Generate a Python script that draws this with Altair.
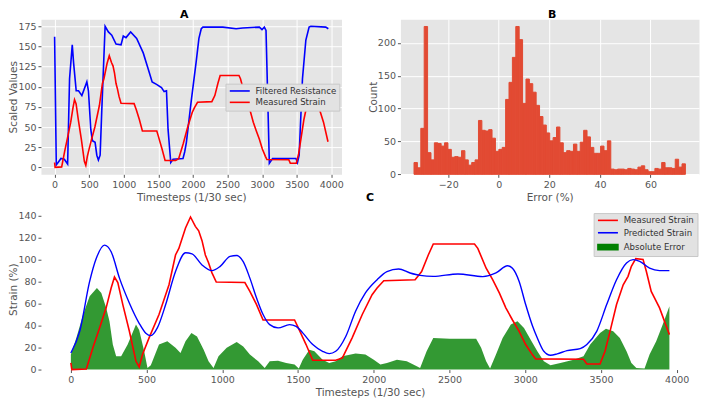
import altair as alt
import pandas as pd

FONT = "DejaVu Sans"
TXT = "#555555"
BG = "#E5E5E5"

# ---------------------------------------------------------------- data
# Measured strain (panels A and C): timestep / value
meas_t = [0, 7, 102, 146, 190, 233, 266, 288, 310, 343, 386, 430, 451, 473,
          517, 582, 648, 691, 713, 757, 790, 822, 844, 866, 888, 909, 931, 960,
          1149, 1182, 1226, 1269, 1477, 1498, 1553, 1597, 1749, 1793, 1858,
          1924, 1989, 2022, 2066, 2273, 2316, 2360, 2393, 2665, 2687, 2742,
          2785, 2829, 2872, 2916, 2960, 3003, 3047, 3069, 3385, 3407, 3494,
          3527, 3560, 3603, 3647, 3679, 3701, 3730, 3778, 3800, 3832, 3887, 3952]
meas_v = [6, 0, 0.5, 20, 38, 56, 74, 84, 79, 59, 35, 7.5, 2.4, 13.6,
          29, 50, 77, 104, 110, 128.5, 138.5, 130, 126, 117, 104, 97, 88, 79.5,
          79, 71, 59, 45, 45, 39, 22.7, 8.5, 8.5, 10.6, 29,
          50, 68, 74, 80.7, 81.5, 89, 104, 114, 114, 110, 92,
          81.6, 69.6, 56, 45, 34.7, 22.7, 13.6, 9.7, 9.4, 5.1, 5.1,
          16.6, 34.7, 59, 77, 84.6, 93.7, 100.7, 100, 89, 71, 56, 31.7]

# Filtered resistance (panel A)
res_t = [0, 24, 58, 92, 140, 188, 216, 255, 274, 312, 346, 394, 466, 489, 523,
         547, 585, 610, 633, 658, 682, 730, 777, 826, 888, 960, 993, 1032, 1099,
         1186, 1281, 1353, 1410, 1473, 1545, 1583, 1617, 1640, 1679, 1712, 1856,
         1880, 1905, 1976, 2048, 2086, 2120, 2144, 2432, 2624, 2720, 2960, 2998,
         3032, 3056, 3085, 3104, 3151, 3488, 3511, 3535, 3583, 3632, 3679, 3704,
         3919, 3957]
res_v = [162, 3, 7, 11, 10, 4, 110, 152, 130, 95, 95, 89, 106, 95, 47,
         33, 31, 15, 9, 15, 71, 175, 168, 164, 153, 152, 163, 161, 168,
         160, 142, 122, 106, 103, 99, 94, 95, 47, 6, 10, 11,
         19, 31, 83, 132, 160, 172, 174, 174, 172, 173, 174, 171,
         174, 170, 71, 5, 11, 11, 6, 15, 110, 158, 174, 175,
         174, 172]

# Predicted strain (panel C)
pred_t = [0, 59, 124, 168, 222, 266, 321, 386, 451, 495, 528, 571, 626, 691,
          757, 800, 866, 931, 986, 1051, 1095, 1138, 1182, 1226, 1269, 1313,
          1368, 1444, 1487, 1531, 1597, 1662, 1706, 1749, 1815, 1880, 1945,
          2022, 2087, 2164, 2240, 2306, 2393, 2556, 2720, 2807, 2883, 2916,
          2960, 3003, 3047, 3080, 3123, 3167, 3211, 3276, 3363, 3407, 3472,
          3538, 3603, 3669, 3712, 3756, 3821, 3887, 3952]
pred_v = [15, 35, 80, 101, 113, 107, 83, 60.5, 42, 33, 30.8, 37.8, 59, 89,
          106, 105, 95, 89.8, 93.7, 102.8, 103.6, 98, 83, 65, 50, 40.8,
          37.8, 40.8, 39.3, 33.3, 22.7, 16.6, 14.5, 16.6, 30, 53, 69.6,
          81.6, 89, 91.3, 87.7, 85.5, 84.6, 86.8, 84.4, 87.7, 94.3, 92,
          80, 59, 40, 28.7, 16.6, 13, 14.2, 17.2, 19, 22.7, 34.7,
          59, 81.6, 96.8, 99.8, 98.3, 92, 89.8, 89.8]

# Absolute error envelope (panel C)
err_t = [0, 37, 81, 124, 172, 201, 233, 255, 277, 299, 332, 375, 430, 451,
         484, 506, 528, 582, 637, 691, 724, 757, 796, 833, 877, 909, 942, 975,
         1029, 1095, 1138, 1182, 1237, 1280, 1313, 1368, 1422, 1477, 1505,
         1531, 1575, 1608, 1662, 1706, 1749, 1793, 1880, 1945, 2000, 2044,
         2087, 2153, 2218, 2284, 2306, 2349, 2393, 2502, 2676, 2709, 2742,
         2768, 2807, 2851, 2905, 2949, 2992, 3036, 3080, 3123, 3167, 3232,
         3320, 3385, 3429, 3494, 3533, 3581, 3625, 3669, 3701, 3734, 3788,
         3821, 3865, 3908, 3952]
err_v = [13.6, 29, 50, 66.5, 74, 69.6, 56, 43.8, 22.7, 12, 12, 22.7, 40.8, 36,
         16.6, 1.5, 4, 22.7, 25.7, 19.7, 15, 25.7, 33.3, 30, 18, 7.5, 1.5, 12,
         19.7, 25, 21, 13.6, 7.5, 1.5, 7.5, 8, 6, 4.5, 1,
         9, 18, 16.6, 9, 6, 7.5, 12, 14.5, 13.6, 9, 4.5,
         6, 9, 7.5, 3, 1.5, 16.6, 28.7, 28, 28, 19.7, 7.5,
         1, 13.6, 28.7, 40.8, 43.8, 37.8, 27, 16.6, 7.5, 4, 6,
         9, 12, 22.7, 33.3, 37, 34.7, 28.7, 16.6, 6, 1.5, 1,
         13.6, 25.7, 40.8, 57.4]

# Error histogram (panel B): 80 equal bins between these edges
hist_lo, hist_hi = -33.5, 73.8
hist_counts = [18, 10, 70, 225, 33, 22, 48, 47, 43, 48,
               38, 26, 27, 26, 36, 22, 14, 18, 22, 82,
               67, 66, 68, 55, 35, 38, 41, 114, 140, 178,
               225, 205, 108, 145, 138, 125, 105, 88, 75, 63,
               51, 56, 72, 48, 33, 36, 35, 46, 35, 49,
               67, 57, 41, 32, 32, 43, 36, 51, 8, 7,
               8, 8, 7, 9, 8, 7, 11, 13, 7, 4,
               4, 9, 8, 18, 10, 10, 9, 23, 11, 16]

time_ticks = [0, 500, 1000, 1500, 2000, 2500, 3000, 3500, 4000]
a_y_ticks = [0, 25, 50, 75, 100, 125, 150, 175]
b_x_ticks = [-20, 0, 20, 40, 60]
b_y_ticks = [0, 50, 100, 150, 200]
c_y_ticks = [0, 20, 40, 60, 80, 100, 120, 140]

namesA = ["Filtered Resistance", "Measured Strain"]
colorsA = ["#0000FF", "#FF0000"]
namesC = ["Measured Strain", "Predicted Strain", "Absolute Error"]
colorsC = ["#FF0000", "#0000FF", "#008000"]

# ---------------------------------------------------------------- layout
TIME_DOMAIN = [-197.5, 4147.5]
W_A, W_B, H_TOP = 301, 299, 155.3
W_C, H_C = 659, 161

LINE_SYM = "M-1.2,0L6.8,0"
RECT_SYM = "M-1.2,-1L6.8,-1L6.8,1L-1.2,1Z"

legend_common = dict(
    title=None, orient="none", symbolSize=25, symbolStrokeWidth=1.6,
    labelOffset=18.5, padding=3, fillColor="#E2E2E2", strokeColor="#C8C8C8",
    labelLimit=300,
)

# ---------------------------------------------------------------- panel A
dfA = pd.concat([
    pd.DataFrame({"t": res_t, "v": res_v, "series": namesA[0]}),
    pd.DataFrame({"t": meas_t, "v": meas_v, "series": namesA[1]}),
], ignore_index=True)

chartA = alt.Chart(dfA).mark_line(strokeWidth=1.6).encode(
    x=alt.X("t:Q", scale=alt.Scale(domain=TIME_DOMAIN, nice=False, zero=False),
            axis=alt.Axis(values=time_ticks, format="d", title="Timesteps (1/30 sec)")),
    y=alt.Y("v:Q", scale=alt.Scale(domain=[-8.75, 183.75], nice=False, zero=False),
            axis=alt.Axis(values=a_y_ticks, format="d", title="Scaled Values")),
    color=alt.Color("series:N", scale=alt.Scale(domain=namesA, range=colorsA),
                    legend=alt.Legend(legendX=184.8, legendY=64.5, rowPadding=2.4,
                                      symbolType=LINE_SYM, **legend_common)),
).properties(width=W_A, height=H_TOP,
             title=alt.TitleParams("A", offset=-1, frame="group", dx=-7))

# ---------------------------------------------------------------- panel B
bw = (hist_hi - hist_lo) / len(hist_counts)
dfB = pd.DataFrame({
    "lo": [hist_lo + i * bw for i in range(len(hist_counts))],
    "hi": [hist_lo + (i + 1) * bw for i in range(len(hist_counts))],
    "count": hist_counts,
})
chartB = alt.Chart(dfB).mark_rect(color="#E24A33", stroke="#E24A33", strokeWidth=1).encode(
    x=alt.X("lo:Q", scale=alt.Scale(domain=[-38.87, 79.17], nice=False, zero=False),
            axis=alt.Axis(values=b_x_ticks, format="d", title="Error (%)")),
    x2="hi:Q",
    y=alt.Y("count:Q", scale=alt.Scale(domain=[0, 236], nice=False),
            axis=alt.Axis(values=b_y_ticks, format="d", title="Count")),
    y2=alt.datum(0),
).properties(width=W_B, height=H_TOP,
             title=alt.TitleParams("B", offset=-1, frame="group", dx=2.5))

# ---------------------------------------------------------------- panel C
xC = alt.X("t:Q", scale=alt.Scale(domain=TIME_DOMAIN, nice=False, zero=False),
           axis=alt.Axis(values=time_ticks, format="d", title="Timesteps (1/30 sec)"))
yC = alt.Y("v:Q", scale=alt.Scale(domain=[0, 145.95], nice=False),
           axis=alt.Axis(values=c_y_ticks, format="d", title="Strain (%)"))

areaC = alt.Chart(pd.DataFrame({"t": err_t, "v": err_v})).mark_area(
    color="#008000", opacity=0.8).encode(x=xC, y=yC)
measC = alt.Chart(pd.DataFrame({"t": meas_t, "v": meas_v})).mark_line(
    color="#FF0000", strokeWidth=1.6).encode(x=xC, y=yC)
predC = alt.Chart(pd.DataFrame({"t": pred_t, "v": pred_v})).mark_line(
    color="#0000FF", strokeWidth=1.4, interpolate="monotone").encode(x=xC, y=yC)

legC = alt.Legend(legendX=553.5, legendY=4.3, rowPadding=3.4, **legend_common)
keyC = alt.Chart(pd.DataFrame({"series": namesC})).mark_point(
    size=0, filled=True, opacity=1).encode(
    fill=alt.Fill("series:N", scale=alt.Scale(domain=namesC, range=colorsC), legend=legC),
    stroke=alt.Stroke("series:N", scale=alt.Scale(domain=namesC, range=colorsC), legend=legC),
    shape=alt.Shape("series:N", scale=alt.Scale(domain=namesC, range=[LINE_SYM, LINE_SYM, RECT_SYM]),
                    legend=legC),
)

chartC = alt.layer(areaC, measC, predC, keyC).properties(
    width=W_C, height=H_C, title=alt.TitleParams("C", offset=6, frame="group"))

# ---------------------------------------------------------------- compose
top = alt.hconcat(chartA, chartB, spacing=59, bounds="flush").resolve_scale(
    color="independent").resolve_legend(color="independent")

chart = alt.vconcat(top, chartC, spacing=-13.2).resolve_scale(
    color="independent", fill="independent", stroke="independent", shape="independent"
).resolve_legend(
    color="independent", fill="independent", stroke="independent", shape="independent"
).properties(padding=0).configure_view(
    fill=BG, stroke="transparent"
).configure_axis(
    labelFont=FONT, labelFontSize=9.5, labelColor=TXT, labelOverlap=False,
    titleFont=FONT, titleFontSize=10.5, titleColor=TXT, titleFontWeight="normal",
    tickColor=TXT, tickSize=3, tickWidth=1,
    gridColor="white", gridOpacity=1, gridWidth=1, domain=False,
).configure_axisX(
    labelPadding=2, titlePadding=3.5,
).configure_axisY(
    labelPadding=2, titlePadding=-1, minExtent=23, maxExtent=23,
).configure_title(
    font=FONT, fontSize=11, fontWeight="bold", color="black", anchor="middle",
).configure_legend(
    labelFont=FONT, labelFontSize=8.6, labelColor="#333333",
)

chart.save("out.html", embed_options={"renderer": "svg", "actions": False})
